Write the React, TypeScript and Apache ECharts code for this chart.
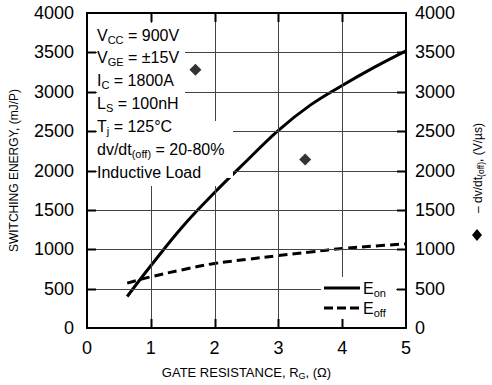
import React, { useEffect, useRef } from "react";
import * as echarts from "echarts";

const rg = [0.63, 1.0, 1.5, 2.0, 2.5, 3.0, 3.5, 4.0, 4.5, 5.0];
const eOn = [400, 790, 1290, 1720, 2120, 2510, 2830, 3080, 3310, 3520];
const eOff = [570, 650, 740, 820, 870, 920, 965, 1010, 1040, 1070];
const dvdtRg = [1.7, 3.42];
const dvdt = [3280, 2140];
const xTicks = [1, 2, 3, 4];
const yTicks = [500, 1000, 1500, 2000, 2500, 3000, 3500];
const annotations = [
  ["V", "CC", " = 900V"],
  ["V", "GE", " = ±15V"],
  ["I", "C", " = 1800A"],
  ["L", "S", " = 100nH"],
  ["T", "j", " = 125°C"],
  ["dv/dt", "(off)", " = 20-80%"],
  ["Inductive Load", "", ""],
];

const FONT = "Liberation Sans, Arial, sans-serif";
const X_MAX = 5;
const Y_MAX = 4000;

export default function App() {
  const ref = useRef<HTMLDivElement>(null);
  useEffect(() => {
    if (!ref.current) return;
    const chart = echarts.init(ref.current, undefined, { renderer: "svg" });
    const richMain = (fs: number, lh: number, sfs: number) => ({
      m: { fontSize: fs, lineHeight: lh, fontFamily: FONT, color: "#000" },
      s: { fontSize: sfs, lineHeight: sfs, verticalAlign: "bottom", fontFamily: FONT, color: "#000" },
    });
    const xBase = { type: "value", min: 0, max: X_MAX, interval: 1, gridIndex: 0 };
    const yBase = { type: "value", min: 0, max: Y_MAX, interval: 500, gridIndex: 0 };
    const axisLine = { show: true, onZero: false, lineStyle: { color: "#000", width: 2 } };
    const labelStyle = { fontSize: 18, color: "#000", fontFamily: FONT, formatter: (v: number) => String(v) };

    chart.setOption({
      animation: false,
      grid: { left: 87, top: 13, right: 86, bottom: 51 },
      xAxis: [
        {
          ...xBase, position: "bottom",
          axisLine, axisTick: { show: false },
          axisLabel: { ...labelStyle, margin: 11 },
          splitLine: { show: false },
          name: "{m|GATE RESISTANCE, R}{s|G}{m|, (Ω)}",
          nameLocation: "middle",
          nameGap: 36,
          nameTextStyle: { rich: richMain(13, 16, 9) },
        },
        {
          ...xBase, position: "top",
          axisLine, axisTick: { show: false }, axisLabel: { show: false },
          splitLine: { show: false },
        },
      ],
      yAxis: [
        {
          ...yBase, position: "left",
          axisLine, axisTick: { show: false },
          axisLabel: { ...labelStyle, margin: 13 },
          splitLine: { show: false },
          name: "SWITCHING ENERGY, (mJ/P)",
          nameLocation: "middle",
          nameGap: 67,
          nameTextStyle: { fontSize: 12, color: "#000", fontFamily: FONT },
        },
        {
          ...yBase, position: "right",
          axisLine, axisTick: { show: false },
          axisLabel: { ...labelStyle, margin: 9 },
          splitLine: { show: false },
        },
      ],
      series: [
        {
          type: "line", name: "Eon", z: 5, xAxisIndex: 0, yAxisIndex: 0,
          data: rg.map((x, i) => [x, eOn[i]]),
          smooth: 0.4, showSymbol: false,
          lineStyle: { color: "#000", width: 3 },
        },
        {
          type: "line", name: "Eoff", z: 5, xAxisIndex: 0, yAxisIndex: 0,
          data: rg.map((x, i) => [x, eOff[i]]),
          smooth: 0.4, showSymbol: false,
          lineStyle: { color: "#000", width: 3, type: [9, 5] },
        },
        {
          type: "scatter", name: "dvdt", z: 9, xAxisIndex: 0, yAxisIndex: 1,
          data: dvdtRg.map((x, i) => [x, dvdt[i]]),
          symbol: "diamond", symbolSize: 12,
          itemStyle: { color: "#000" },
        },
      ],
    });

    // Grid lines and inward ticks positioned through the chart's own scales.
    const px = (x: number, y: number) =>
      chart.convertToPixel({ xAxisIndex: 0, yAxisIndex: 0 }, [x, y]) as number[];
    const snap = (v: number) => Math.round(v) + 0.5;
    const grid: any[] = [];
    const ticks: any[] = [];
    xTicks.forEach((v) => {
      const b = px(v, 0);
      const t = px(v, Y_MAX);
      const x = snap(b[0]);
      grid.push({ type: "line", z: 6, silent: true, shape: { x1: x, y1: t[1], x2: x, y2: b[1] }, style: { stroke: "#444", lineWidth: 1 } });
      ticks.push({ type: "line", z: 8, silent: true, shape: { x1: x, y1: b[1], x2: x, y2: b[1] - 9 }, style: { stroke: "#000", lineWidth: 2 } });
      ticks.push({ type: "line", z: 8, silent: true, shape: { x1: x, y1: t[1], x2: x, y2: t[1] + 9 }, style: { stroke: "#000", lineWidth: 2 } });
    });
    yTicks.forEach((v) => {
      const l = px(0, v);
      const r = px(X_MAX, v);
      const y = snap(l[1]);
      grid.push({ type: "line", z: 6, silent: true, shape: { x1: l[0], y1: y, x2: r[0], y2: y }, style: { stroke: "#444", lineWidth: 1 } });
      ticks.push({ type: "line", z: 8, silent: true, shape: { x1: l[0], y1: y, x2: l[0] + 9, y2: y }, style: { stroke: "#000", lineWidth: 2 } });
      ticks.push({ type: "line", z: 8, silent: true, shape: { x1: r[0], y1: y, x2: r[0] - 9, y2: y }, style: { stroke: "#000", lineWidth: 2 } });
    });

    const annText = annotations.map((a, i) => ({
      type: "text",
      z: 20,
      x: 97,
      y: 35 + i * 22.9,
      style: {
        text: a[1] ? `{m|${a[0]}}{s|${a[1]}}{m|${a[2]}}` : `{m|${a[0]}}`,
        rich: richMain(16, 20, 11),
        verticalAlign: "middle",
        align: "left",
      },
    }));

    chart.setOption({
      graphic: [
        ...grid,
        { type: "rect", z: 7, shape: { x: 97, y: 23, width: 88, height: 99 }, style: { fill: "#fff" } },
        { type: "rect", z: 7, shape: { x: 97, y: 121, width: 136, height: 57 }, style: { fill: "#fff" } },
        { type: "rect", z: 7, shape: { x: 97, y: 177, width: 122, height: 9 }, style: { fill: "#fff" } },
        { type: "rect", z: 7, shape: { x: 321, y: 277, width: 75, height: 47 }, style: { fill: "#fff" } },
        ...ticks,
        ...annText,
        { type: "line", z: 20, shape: { x1: 324, y1: 288, x2: 360, y2: 288 }, style: { stroke: "#000", lineWidth: 3 } },
        { type: "line", z: 20, shape: { x1: 324, y1: 308, x2: 360, y2: 308 }, style: { stroke: "#000", lineWidth: 3, lineDash: [9, 4] } },
        {
          type: "text", z: 20, x: 363, y: 288,
          style: { text: "{m|E}{s|on}", rich: richMain(16, 20, 11), verticalAlign: "middle", align: "left" },
        },
        {
          type: "text", z: 20, x: 363, y: 308,
          style: { text: "{m|E}{s|off}", rich: richMain(16, 20, 11), verticalAlign: "middle", align: "left" },
        },
        {
          type: "text", z: 20, x: 478, y: 168, rotation: Math.PI / 2,
          style: {
            text: "{m|– dv/dt}{s|(off)}{m|, (V/µs)}",
            rich: richMain(12, 15, 8.5),
            verticalAlign: "middle", align: "center",
          },
        },
        {
          type: "polygon", z: 20,
          shape: { points: [[477, 229], [482, 235], [477, 241], [472, 235]] },
          style: { fill: "#000" },
        },
      ],
    });
    return () => chart.dispose();
  }, []);
  return <div ref={ref} style={{ position: "absolute", left: 0, top: 0, width: 492, height: 385 }} />;
}
